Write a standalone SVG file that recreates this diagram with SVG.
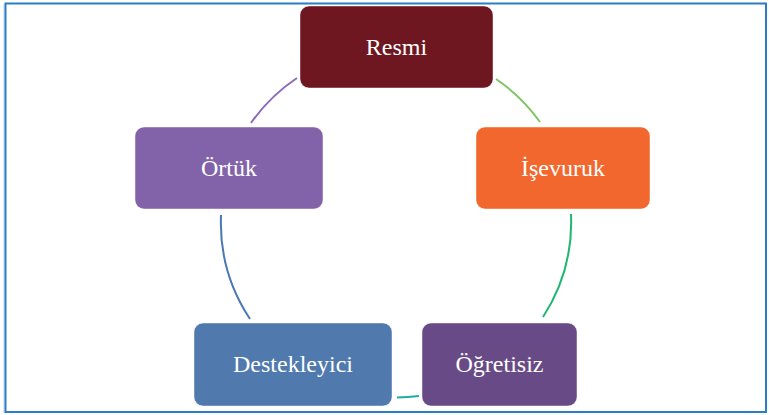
<svg xmlns="http://www.w3.org/2000/svg" width="769" height="415" viewBox="0 0 769 415">
  <style>
    .box { stroke: #ffffff; stroke-opacity: 0.45; stroke-width: 1; }
    .label { font-family: "Liberation Serif", "Times New Roman", serif; font-size: 24px; fill: #ffffff; text-anchor: middle; }
    .arc { fill: none; stroke-width: 2; stroke-linecap: butt; }
  </style>

  <!-- frame -->
  <rect x="0" y="0" width="769" height="415" fill="#ffffff"/>
  <line x1="4" y1="4" x2="4" y2="413" stroke="#bcd6ee" stroke-width="1"/>
  <rect x="5.5" y="3.5" width="760.5" height="408.5" fill="none" stroke="#2a7ec4" stroke-width="2"/>

  <!-- arcs of the cycle, circle centre (396,222) r=175 -->
  <g id="connectors">
    <path class="arc" stroke="#7fc461" d="M496,79 A175,175 0 0 1 540,122"/>
    <path class="arc" stroke="#1fb671" d="M571,214 A175,175 0 0 1 543,317"/>
    <path class="arc" stroke="#1dae9f" d="M419,396 A175,175 0 0 1 397,397.5"/>
    <path class="arc" stroke="#4a78b4" d="M250,319 A175,175 0 0 1 221,215"/>
    <path class="arc" stroke="#8d6bbb" d="M251,123 A175,175 0 0 1 297,78"/>
  </g>

  <g id="resmi">
    <rect class="box" x="300" y="6" width="193" height="82" rx="9" fill="#6f1720"/>
    <text class="label" x="396.5" y="55">Resmi</text>
  </g>

  <g id="isevuruk">
    <rect class="box" x="476" y="127" width="174" height="82" rx="9" fill="#f2672d"/>
    <text class="label" x="563" y="176">İşevuruk</text>
  </g>

  <g id="ogretisiz">
    <rect class="box" x="422" y="323" width="155" height="83" rx="9" fill="#684b86"/>
    <text class="label" x="499.5" y="372">Öğretisiz</text>
  </g>

  <g id="destekleyici">
    <rect class="box" x="194" y="323" width="198" height="83" rx="9" fill="#5079ae"/>
    <text class="label" x="293" y="372">Destekleyici</text>
  </g>

  <g id="ortuk">
    <rect class="box" x="135" y="127" width="188" height="82" rx="9" fill="#8263a9"/>
    <text class="label" x="229" y="176">Örtük</text>
  </g>
</svg>
